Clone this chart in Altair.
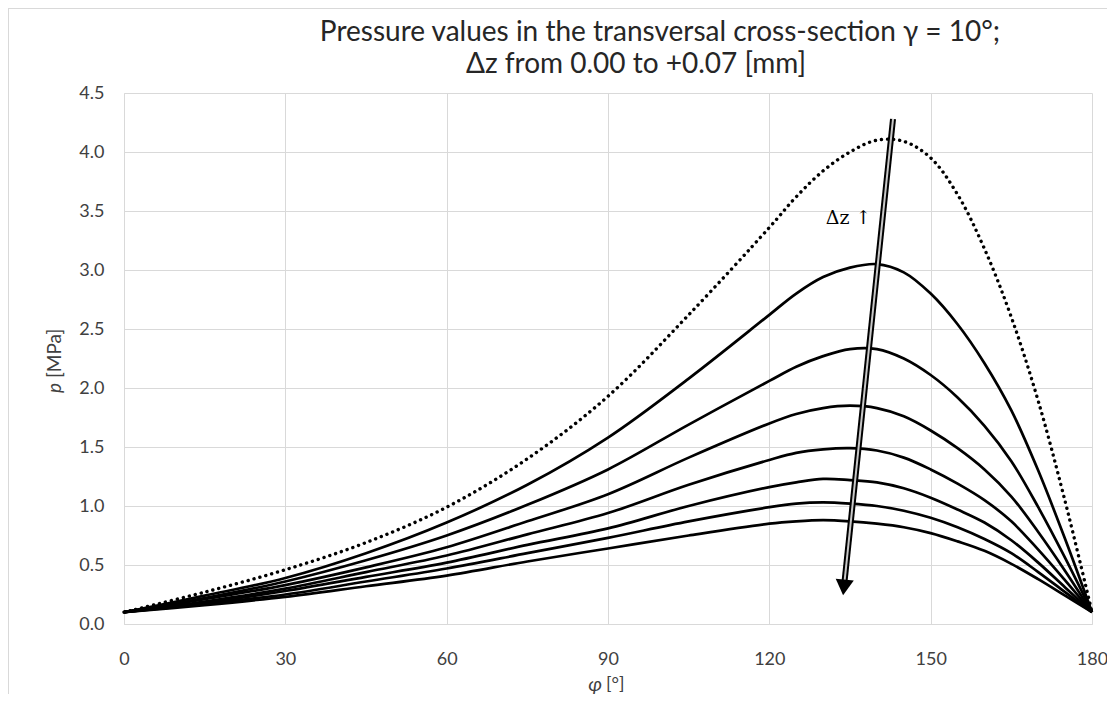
import altair as alt
import pandas as pd

# ---------------- data ----------------
phi = [0, 15, 30, 45, 60, 75, 90, 105, 120, 125, 130, 135, 140, 145, 150, 155, 160, 165, 170, 175, 180]

p_dz000 = [0.10, 0.27, 0.46, 0.69, 0.99, 1.40, 1.93, 2.62, 3.36, 3.62, 3.84, 4.00, 4.10, 4.09, 3.95, 3.64, 3.18, 2.60, 1.89, 1.04, 0.10]
p_dz001 = [0.10, 0.24, 0.39, 0.60, 0.86, 1.18, 1.58, 2.08, 2.62, 2.80, 2.94, 3.02, 3.05, 2.98, 2.80, 2.54, 2.21, 1.81, 1.30, 0.72, 0.10]
p_dz002 = [0.10, 0.22, 0.36, 0.54, 0.75, 1.01, 1.31, 1.69, 2.06, 2.18, 2.27, 2.33, 2.33, 2.25, 2.11, 1.92, 1.68, 1.38, 0.99, 0.56, 0.10]
p_dz003 = [0.10, 0.21, 0.33, 0.48, 0.65, 0.87, 1.10, 1.41, 1.70, 1.78, 1.83, 1.85, 1.83, 1.76, 1.64, 1.49, 1.31, 1.08, 0.78, 0.45, 0.10]
p_dz004 = [0.10, 0.19, 0.30, 0.44, 0.58, 0.76, 0.94, 1.18, 1.39, 1.45, 1.48, 1.49, 1.47, 1.41, 1.31, 1.19, 1.05, 0.87, 0.63, 0.37, 0.10]
p_dz005 = [0.10, 0.18, 0.28, 0.40, 0.52, 0.67, 0.81, 1.00, 1.16, 1.20, 1.23, 1.22, 1.20, 1.15, 1.07, 0.97, 0.86, 0.71, 0.52, 0.31, 0.10]
p_dz006 = [0.10, 0.17, 0.25, 0.36, 0.47, 0.60, 0.73, 0.87, 0.99, 1.02, 1.03, 1.02, 1.00, 0.96, 0.90, 0.82, 0.72, 0.60, 0.44, 0.27, 0.10]
p_dz007 = [0.10, 0.16, 0.23, 0.32, 0.41, 0.53, 0.64, 0.75, 0.85, 0.87, 0.88, 0.87, 0.85, 0.82, 0.77, 0.70, 0.62, 0.51, 0.38, 0.24, 0.10]

dz_names = ["0.00", "0.01", "0.02", "0.03", "0.04", "0.05", "0.06", "0.07"]
dz_values = [p_dz000, p_dz001, p_dz002, p_dz003, p_dz004, p_dz005, p_dz006, p_dz007]

x_ticks = [0, 30, 60, 90, 120, 150, 180]
y_ticks = [0.0, 0.5, 1.0, 1.5, 2.0, 2.5, 3.0, 3.5, 4.0, 4.5]

title_lines = ["Pressure values in the transversal cross-section \u03b3 = 10\u00b0;",
               "\u0394z from 0.00 to +0.07 [mm]"]
x_title_sym, x_title_unit = "\u03c6", "[\u00b0]"
y_title_sym, y_title_unit = "p", "[MPa]"

arrow_phi = [143.0, 133.87]      # tail, head centre
arrow_p = [4.28, 0.31]
arrow_label = "\u0394z \u2191"
arrow_label_phi = [139.0]
arrow_label_p = [3.44]

# ---------------- tables ----------------
rows = []
for name, vals in zip(dz_names, dz_values):
    for a, v in zip(phi, vals):
        rows.append({"phi": a, "p": v, "dz": name})
df = pd.DataFrame(rows)

arrow_df = pd.DataFrame({"x": [arrow_phi[0]], "y": [arrow_p[0]],
                         "x2": [arrow_phi[1]], "y2": [arrow_p[1]]})
head_df = pd.DataFrame({"x": [arrow_phi[1]], "y": [arrow_p[1]]})
lab_df = pd.DataFrame({"x": arrow_label_phi, "y": arrow_label_p, "t": [arrow_label]})

W, H = 968, 531
LEFT, TOP = 116, 85

xs = alt.Scale(domain=[0, 180], nice=False, zero=False)
ys = alt.Scale(domain=[0, 4.5], nice=False)

X = alt.X("phi:Q", scale=xs, axis=alt.Axis(values=x_ticks, title=None, labelPadding=26,
                                           labelFlush=False))
Y = alt.Y("p:Q", scale=ys, axis=alt.Axis(values=y_ticks, format=".1f", title=None,
                                         labelPadding=20))

base = alt.Chart(df)

dotted = base.transform_filter(alt.datum.dz == "0.00").mark_line(
    color="black", strokeWidth=3.4, strokeDash=[0.1, 6], strokeCap="round",
    interpolate="catmull-rom").encode(x=X, y=Y)

solid = base.transform_filter(alt.datum.dz != "0.00").mark_line(
    color="black", strokeWidth=2.7, interpolate="catmull-rom").encode(
    x=X, y=Y, detail="dz:N")

arrow_outer = alt.Chart(arrow_df).mark_rule(color="black", strokeWidth=6).encode(
    x=alt.X("x:Q", scale=xs), y=alt.Y("y:Q", scale=ys), x2="x2:Q", y2="y2:Q")
arrow_inner = alt.Chart(arrow_df).mark_rule(color="#c8c8c8", strokeWidth=2).encode(
    x=alt.X("x:Q", scale=xs), y=alt.Y("y:Q", scale=ys), x2="x2:Q", y2="y2:Q")
arrow_head = alt.Chart(head_df).mark_point(
    shape="triangle-down", filled=True, color="black", size=330, angle=6, opacity=1).encode(
    x=alt.X("x:Q", scale=xs), y=alt.Y("y:Q", scale=ys))
arrow_text = alt.Chart(lab_df).mark_text(
    font="DejaVu Serif", fontSize=19, align="right", baseline="middle", color="black").encode(
    x=alt.X("x:Q", scale=xs), y=alt.Y("y:Q", scale=ys), text="t:N")

# titles as text annotations
tdf = pd.DataFrame({"t": title_lines, "xx": [536, 512], "yy": [-52, -20]})
title = alt.Chart(tdf).mark_text(font="Lato", fontSize=28, color="#262626",
                                 align="center", baseline="alphabetic").encode(
    x=alt.X("xx:Q", scale=None), y=alt.Y("yy:Q", scale=None), text="t:N")

xt1 = alt.Chart(pd.DataFrame({"t": [x_title_sym]})).mark_text(
    font="Lato", fontSize=20, fontStyle="italic", color="#404040", align="right",
    baseline="middle").encode(x=alt.value(478), y=alt.value(592), text="t:N")
xt2 = alt.Chart(pd.DataFrame({"t": [x_title_unit]})).mark_text(
    font="Lato", fontSize=18, color="#404040", align="left",
    baseline="middle").encode(x=alt.value(482), y=alt.value(592), text="t:N")

yt1 = alt.Chart(pd.DataFrame({"t": [y_title_sym]})).mark_text(
    font="Lato", fontSize=19, fontStyle="italic", color="#404040", align="right",
    baseline="middle", angle=270).encode(x=alt.value(-69), y=alt.value(290), text="t:N")
yt2 = alt.Chart(pd.DataFrame({"t": [y_title_unit]})).mark_text(
    font="Lato", fontSize=19, color="#404040", align="left",
    baseline="middle", angle=270).encode(x=alt.value(-69), y=alt.value(285), text="t:N")

# outer chart frame (light grey) at left and top
frame_v = alt.Chart(pd.DataFrame({"a": [0]})).mark_rule(color="#d9d9d9", strokeWidth=1).encode(
    x=alt.value(-115.5), y=alt.value(-85), y2=alt.value(700))
frame_h = alt.Chart(pd.DataFrame({"a": [0]})).mark_rule(color="#d9d9d9", strokeWidth=1).encode(
    x=alt.value(-116), x2=alt.value(1100), y=alt.value(-84.5))

chart = alt.layer(
    dotted, solid, arrow_outer, arrow_inner, arrow_head, arrow_text,
    title, xt1, xt2, yt1, yt2, frame_v, frame_h
).properties(
    width=W, height=H,
    autosize=alt.AutoSizeParams(type="none"),
    padding={"left": LEFT, "top": TOP, "right": 15, "bottom": 70},
    background="white",
).configure_view(stroke=None).configure_axis(
    grid=True, gridColor="#d9d9d9", gridWidth=1,
    domainColor="#d9d9d9", domainWidth=1,
    ticks=False, tickSize=0,
    labelFont="Lato", labelFontSize=18, labelColor="#404040",
)

chart.save("out.html", embed_options={"renderer": "svg", "actions": False})
